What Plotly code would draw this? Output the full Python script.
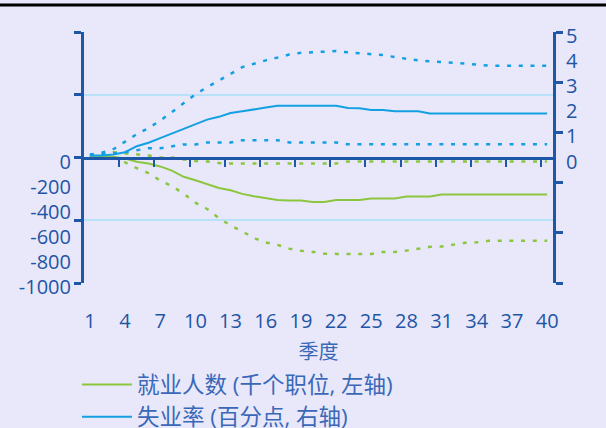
import plotly.graph_objects as go

# Quarters after the shock
quarters = list(range(1, 41))

# Employment response (thousand jobs, left axis): central estimate and band
employment = [10, 10, 6, -8, -34, -48, -71, -104, -154, -181,
              -212, -243, -261, -290, -309, -322, -339, -342, -342, -354,
              -354, -338, -338, -338, -326, -326, -326, -310, -310, -310,
              -294, -294, -294, -294, -294, -294, -294, -294, -294, -294]
employment_low = [10, 5, 0, -38, -85, -124, -184, -228, -288, -360,
                  -410, -483, -541, -589, -642, -677, -696, -726, -744, -752,
                  -767, -768, -768, -768, -768, -752, -752, -742, -726, -712,
                  -709, -694, -680, -676, -664, -664, -664, -664, -664, -664]
employment_high = [5, 20, 42, 32, 24, 16, 0, 0, -16, -28,
                   -32, -44, -48, -48, -48, -48, -48, -48, -48, -48,
                   -48, -48, -32, -32, -32, -32, -32, -32, -32, -32,
                   -32, -32, -32, -32, -32, -32, -32, -32, -32, -32]

# Unemployment rate response (percentage points, right axis)
unemployment = [0.08, 0.08, 0.12, 0.21, 0.45, 0.59, 0.77, 0.96, 1.13, 1.34,
                1.51, 1.62, 1.77, 1.84, 1.90, 1.99, 2.06, 2.06, 2.06, 2.06,
                2.06, 2.06, 1.97, 1.96, 1.89, 1.89, 1.84, 1.84, 1.84, 1.75,
                1.75, 1.75, 1.75, 1.75, 1.75, 1.75, 1.75, 1.75, 1.75, 1.75]
unemployment_high = [0.12, 0.19, 0.33, 0.64, 0.93, 1.17, 1.47, 1.81, 2.17, 2.52,
                     2.80, 3.05, 3.33, 3.60, 3.75, 3.87, 3.98, 4.10, 4.17, 4.20,
                     4.24, 4.24, 4.19, 4.16, 4.12, 4.08, 4.00, 3.93, 3.87, 3.83,
                     3.81, 3.77, 3.74, 3.69, 3.66, 3.66, 3.66, 3.66, 3.66, 3.66]
unemployment_low = [0.10, 0.12, 0.17, 0.21, 0.29, 0.37, 0.37, 0.45, 0.52, 0.52,
                    0.60, 0.60, 0.60, 0.69, 0.69, 0.69, 0.69, 0.60, 0.60, 0.60,
                    0.60, 0.60, 0.53, 0.53, 0.53, 0.53, 0.53, 0.53, 0.53, 0.53,
                    0.53, 0.53, 0.53, 0.53, 0.53, 0.53, 0.53, 0.53, 0.53, 0.53]

x_ticks = list(range(1, 41, 3))
x_tick_marks = [q + 0.5 for q in range(3, 40, 3)]
left_labels = [0, -200, -400, -600, -800, -1000]
left_text = ["0", "-200", "-400", "-600", "-800", "-1000"]
left_marks = [-1000, -500, 0, 500, 1000]
right_labels = [0, 1, 2, 3, 4, 5]
right_marks = [-5, -3, -1, 1, 3, 5]

BG = "#E8E8FA"
AXIS = "#1E56A8"
LABEL = "#1F55A5"
SOFT = "#3A68B8"
GRID = "#B8E2F8"
GREEN = "#8CC63F"
BLUE = "#13A0E2"
DOT = "4px,7.7px"
FONT = "Open Sans, Noto Sans CJK SC, sans-serif"

fig = go.Figure()

fig.add_trace(go.Scatter(x=quarters, y=employment, mode="lines", name="就业人数 (千个职位, 左轴)",
                         line=dict(color=GREEN, width=2), legendgroup="a"))
fig.add_trace(go.Scatter(x=quarters, y=employment_low, mode="lines", showlegend=False,
                         line=dict(color=GREEN, width=2.5, dash=DOT)))
fig.add_trace(go.Scatter(x=quarters, y=employment_high, mode="lines", showlegend=False,
                         line=dict(color=GREEN, width=2.5, dash=DOT)))
fig.add_trace(go.Scatter(x=quarters, y=unemployment, mode="lines", name="失业率 (百分点, 右轴)",
                         line=dict(color=BLUE, width=2), yaxis="y2", legendgroup="b"))
fig.add_trace(go.Scatter(x=quarters, y=unemployment_high, mode="lines", showlegend=False,
                         line=dict(color=BLUE, width=2.5, dash=DOT), yaxis="y2"))
fig.add_trace(go.Scatter(x=quarters, y=unemployment_low, mode="lines", showlegend=False,
                         line=dict(color=BLUE, width=2.5, dash=DOT), yaxis="y2"))

# Empty helper traces so the overlay axes (zero-line ticks, label axes) are drawn
for xa, ya in (("x2", "y"), ("x", "y3"), ("x", "y4")):
    fig.add_trace(go.Scatter(x=[None], y=[None], xaxis=xa, yaxis=ya, showlegend=False,
                             hoverinfo="skip", mode="lines"))

fig.update_layout(
    width=606, height=428,
    margin=dict(l=84, r=53, t=32, b=145, autoexpand=False),
    paper_bgcolor=BG, plot_bgcolor=BG,
    font=dict(family=FONT, color=LABEL, size=20),
    showlegend=True,
    legend=dict(x=-0.015, xanchor="left", y=-0.32, yanchor="top",
                bgcolor="rgba(0,0,0,0)", font=dict(size=22.5, color=SOFT),
                traceorder="grouped", tracegroupgap=0, itemwidth=50),
    xaxis=dict(range=[0.5, 40.5], tickmode="array", tickvals=x_ticks, ticks="",
               showline=False, showgrid=False, zeroline=False, ticklabelstandoff=24,
               tickfont=dict(size=20, color=LABEL),
               title=dict(text="季度", font=dict(size=20, color=SOFT), standoff=11)),
    xaxis2=dict(range=[0.5, 40.5], overlaying="x", anchor="free", position=0.5,
                showline=True, linecolor=AXIS, linewidth=2.5, ticks="outside",
                tickmode="array", tickvals=x_tick_marks, ticklen=8, tickwidth=2,
                tickcolor=AXIS, showticklabels=False, showgrid=False, zeroline=False),
    yaxis=dict(range=[-1000, 1000], showline=True, linecolor=AXIS, linewidth=2.5,
               ticks="outside", tickmode="array", tickvals=left_marks, ticklen=7,
               tickwidth=2.5, tickcolor=AXIS, showticklabels=False,
               showgrid=True, gridcolor=GRID, gridwidth=2, zeroline=False),
    yaxis3=dict(range=[-1000, 1000], overlaying="y", side="left", anchor="x",
                tickmode="array", tickvals=left_labels, ticktext=left_text, ticks="",
                showline=False, showgrid=False, zeroline=False,
                ticklabelstandoff=12, ticklabelshift=4,
                tickfont=dict(size=20, color=LABEL)),
    yaxis2=dict(range=[-5, 5], overlaying="y", side="right", anchor="x",
                showline=True, linecolor=AXIS, linewidth=2.5, ticks="outside",
                tickmode="array", tickvals=right_marks, ticklen=7, tickwidth=2.5,
                tickcolor=AXIS, showticklabels=False, showgrid=False, zeroline=False),
    yaxis4=dict(range=[-5, 5], overlaying="y", side="right", anchor="x",
                tickmode="array", tickvals=right_labels, ticks="",
                showline=False, showgrid=False, zeroline=False,
                ticklabelstandoff=12, ticklabelshift=4,
                tickfont=dict(size=20, color=LABEL)),
    shapes=[dict(type="line", xref="paper", yref="paper", x0=-0.2, x1=1.2,
                 y0=1.108, y1=1.108, line=dict(color="black", width=3))],
)

fig.write_html("out.html", config={"displayModeBar": False})
